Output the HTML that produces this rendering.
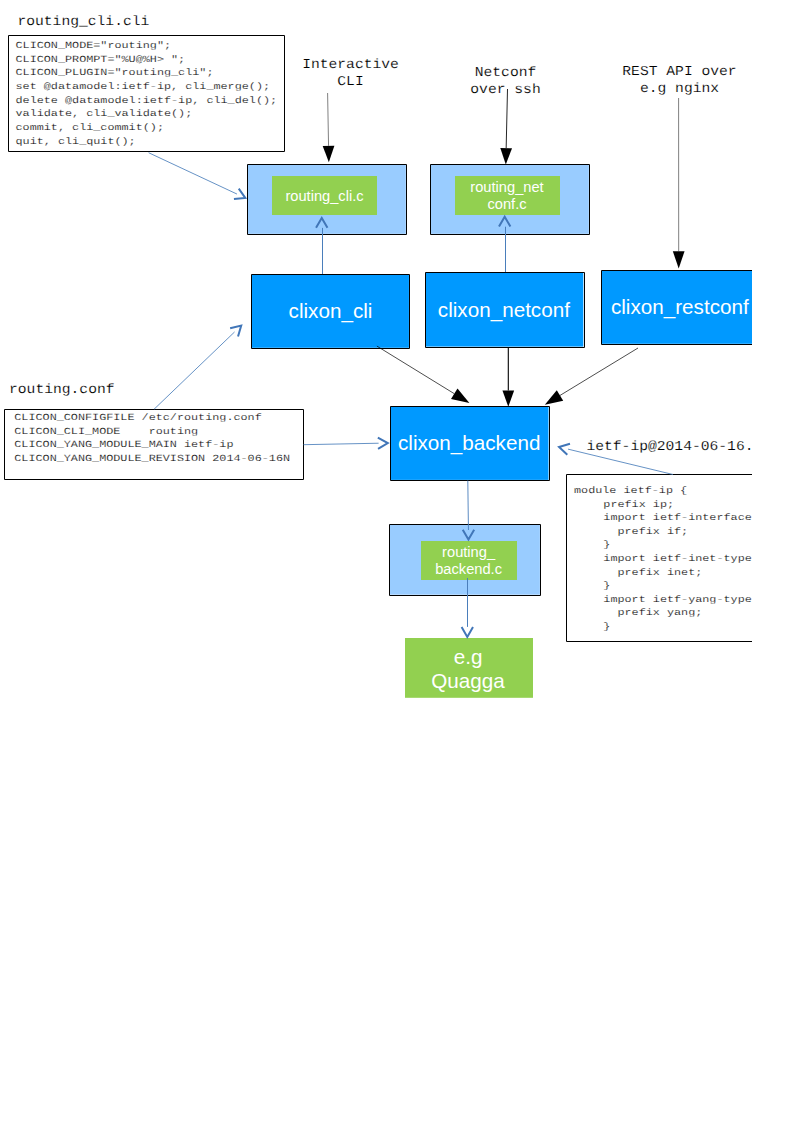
<!DOCTYPE html>
<html lang="en">
<head>
<meta charset="utf-8">
<title>clixon routing example</title>
<style>
html,body{margin:0;padding:0;background:#fff;}
body{width:794px;height:1123px;overflow:hidden;position:relative;}
svg{display:block;position:absolute;left:0;top:0;}
text{white-space:pre;}
.m{font-family:"Liberation Mono",monospace;fill:#000;stroke:#fff;text-rendering:geometricPrecision;}
.t{font-size:14.664px;stroke-width:0.15px;}
.c{font-size:11.798px;stroke-width:0.2px;}
.s,.b{font-family:"Liberation Sans",sans-serif;fill:#fff;}
.s{font-size:14.67px;}
.b{font-size:20.67px;}
</style>
</head>
<body>
<svg width="794" height="1123" viewBox="0 0 794 1123">
<defs><clipPath id="pg"><rect x="0" y="0" width="752" height="1123"/></clipPath></defs>
<rect x="0" y="0" width="794" height="1123" fill="#fff"/>
<g clip-path="url(#pg)">
<text class="m t" transform="translate(17.4 25.2) scale(1 0.93)">routing_cli.cli</text>
<rect x="8.5" y="35.5" width="276" height="116" fill="#fff" stroke="#000" stroke-width="1" stroke-linejoin="round"/>
<text class="m c" transform="translate(15.5 48) scale(1 0.79)">CLICON_MODE="routing";</text>
<text class="m c" transform="translate(15.5 61.67) scale(1 0.79)">CLICON_PROMPT="%U@%H&gt; ";</text>
<text class="m c" transform="translate(15.5 75.34) scale(1 0.79)">CLICON_PLUGIN="routing_cli";</text>
<text class="m c" transform="translate(15.5 89.01) scale(1 0.79)">set @datamodel:ietf-ip, cli_merge();</text>
<text class="m c" transform="translate(15.5 102.68) scale(1 0.79)">delete @datamodel:ietf-ip, cli_del();</text>
<text class="m c" transform="translate(15.5 116.35) scale(1 0.79)">validate, cli_validate();</text>
<text class="m c" transform="translate(15.5 130.02) scale(1 0.79)">commit, cli_commit();</text>
<text class="m c" transform="translate(15.5 143.69) scale(1 0.79)">quit, cli_quit();</text>
<text class="m t" transform="translate(350.5 68) scale(1 0.93)" text-anchor="middle">Interactive</text>
<text class="m t" transform="translate(350.5 85) scale(1 0.93)" text-anchor="middle">CLI</text>
<text class="m t" transform="translate(505.5 76) scale(1 0.93)" text-anchor="middle">Netconf</text>
<text class="m t" transform="translate(505.5 93) scale(1 0.93)" text-anchor="middle">over ssh</text>
<text class="m t" transform="translate(679.5 75) scale(1 0.93)" text-anchor="middle">REST API over</text>
<text class="m t" transform="translate(679.5 92) scale(1 0.93)" text-anchor="middle">e.g nginx</text>
<text class="m t" transform="translate(9 392.7) scale(1 0.93)">routing.conf</text>
<rect x="4.5" y="409.5" width="299" height="70" fill="#fff" stroke="#000" stroke-width="1" stroke-linejoin="round"/>
<text class="m c" transform="translate(14.3 420.1) scale(1 0.79)">CLICON_CONFIGFILE /etc/routing.conf</text>
<text class="m c" transform="translate(14.3 433.77) scale(1 0.79)">CLICON_CLI_MODE    routing</text>
<text class="m c" transform="translate(14.3 447.44) scale(1 0.79)">CLICON_YANG_MODULE_MAIN ietf-ip</text>
<text class="m c" transform="translate(14.3 461.11) scale(1 0.79)">CLICON_YANG_MODULE_REVISION 2014-06-16N</text>
<text class="m t" transform="translate(586.4 449.8) scale(1 0.93)">ietf-ip@2014-06-16.</text>
<rect x="566.5" y="474.5" width="260" height="167" fill="#fff" stroke="#000" stroke-width="1" stroke-linejoin="round"/>
<text class="m c" transform="translate(574 493) scale(1 0.79)">module ietf-ip {</text>
<text class="m c" transform="translate(603.32 506.6) scale(1 0.79)">prefix ip;</text>
<text class="m c" transform="translate(603.32 520.2) scale(1 0.79)">import ietf-interface</text>
<text class="m c" transform="translate(617.48 533.8) scale(1 0.79)">prefix if;</text>
<text class="m c" transform="translate(603.32 547.4) scale(1 0.79)">}</text>
<text class="m c" transform="translate(603.32 561) scale(1 0.79)">import ietf-inet-type</text>
<text class="m c" transform="translate(617.48 574.6) scale(1 0.79)">prefix inet;</text>
<text class="m c" transform="translate(603.32 588.2) scale(1 0.79)">}</text>
<text class="m c" transform="translate(603.32 601.8) scale(1 0.79)">import ietf-yang-type</text>
<text class="m c" transform="translate(617.48 615.4) scale(1 0.79)">prefix yang;</text>
<text class="m c" transform="translate(603.32 629) scale(1 0.79)">}</text>
<rect x="247.5" y="164.5" width="158.35" height="69.35" fill="#99ccff"/>
<rect x="247.5" y="164.5" width="159" height="70" fill="none" stroke="#000" stroke-width="1" stroke-linejoin="round"/>
<rect x="272" y="176" width="105" height="39" fill="#92d050"/>
<text class="s" x="324.5" y="201.2" text-anchor="middle">routing_cli.c</text>
<rect x="430.5" y="164.5" width="158.35" height="69.35" fill="#99ccff"/>
<rect x="430.5" y="164.5" width="159" height="70" fill="none" stroke="#000" stroke-width="1" stroke-linejoin="round"/>
<rect x="455" y="176" width="105" height="39" fill="#92d050"/>
<text class="s" x="507" y="192.1" text-anchor="middle">routing_net</text>
<text class="s" x="507" y="208.8" text-anchor="middle">conf.c</text>
<rect x="389.5" y="524.5" width="150.4" height="70.2" fill="#99ccff"/>
<rect x="389.5" y="524.5" width="151" height="71" fill="none" stroke="#000" stroke-width="1" stroke-linejoin="round"/>
<rect x="421" y="541" width="96" height="39" fill="#92d050"/>
<text class="s" x="468.6" y="557.4" text-anchor="middle">routing_</text>
<text class="s" x="468.6" y="573.6" text-anchor="middle">backend.c</text>
<line x1="322.50" y1="274.00" x2="322.50" y2="227.90" stroke="#4a7ebb" stroke-width="1.0"/>
<polyline points="316.05,227.77 321.75,217.90 327.45,227.77" fill="none" stroke="#4176b8" stroke-width="2.0" stroke-linejoin="miter"/>
<line x1="505.50" y1="272.00" x2="505.50" y2="226.70" stroke="#4a7ebb" stroke-width="1.0"/>
<polyline points="499.00,226.57 504.70,216.70 510.40,226.57" fill="none" stroke="#4176b8" stroke-width="2.0" stroke-linejoin="miter"/>
<rect x="251.5" y="274.5" width="157.45" height="73.3" fill="#0099ff"/>
<rect x="251.5" y="274.5" width="158" height="74" fill="none" stroke="#000" stroke-width="1" stroke-linejoin="round"/>
<text class="b" x="330.5" y="318" text-anchor="middle">clixon_cli</text>
<rect x="425.5" y="272.5" width="157.8" height="74.1" fill="#0099ff"/>
<rect x="425.5" y="272.5" width="159" height="75" fill="none" stroke="#000" stroke-width="1" stroke-linejoin="round"/>
<text class="b" x="503.9" y="317" text-anchor="middle">clixon_netconf</text>
<rect x="601.5" y="270.5" width="158.5" height="73.3" fill="#0099ff"/>
<rect x="601.5" y="270.5" width="159" height="74" fill="none" stroke="#000" stroke-width="1" stroke-linejoin="round"/>
<text class="b" x="679.8" y="313.9" text-anchor="middle">clixon_restconf</text>
<rect x="390.5" y="406.5" width="158" height="73.4" fill="#0099ff"/>
<rect x="390.5" y="406.5" width="159" height="74" fill="none" stroke="#000" stroke-width="1" stroke-linejoin="round"/>
<text class="b" x="469.2" y="449.5" text-anchor="middle">clixon_backend</text>
<rect x="405" y="638" width="128" height="59.8" fill="#92d050"/>
<text class="b" x="468.2" y="663.5" text-anchor="middle">e.g</text>
<text class="b" x="468" y="688.3" text-anchor="middle">Quagga</text>
<line x1="327.60" y1="93.00" x2="328.55" y2="145.80" stroke="#000" stroke-width="0.5"/>
<polygon points="328.85,162.30 322.70,145.91 334.40,145.70" fill="#000"/>
<line x1="507.50" y1="89.00" x2="506.17" y2="148.10" stroke="#000" stroke-width="0.85"/>
<polygon points="505.80,164.60 500.32,147.97 512.02,148.24" fill="#000"/>
<line x1="678.60" y1="98.00" x2="678.69" y2="251.30" stroke="#000" stroke-width="0.5"/>
<polygon points="678.70,268.60 672.84,251.30 684.54,251.30" fill="#000"/>
<line x1="376.90" y1="346.10" x2="454.24" y2="393.67" stroke="#000" stroke-width="0.7"/>
<polygon points="469.40,403.00 450.99,398.95 457.49,388.39" fill="#000"/>
<line x1="508.30" y1="347.50" x2="508.30" y2="390.40" stroke="#000" stroke-width="1.1"/>
<polygon points="508.30,406.70 502.45,390.40 514.15,390.40" fill="#000"/>
<line x1="638.00" y1="348.00" x2="560.01" y2="395.45" stroke="#000" stroke-width="0.7"/>
<polygon points="544.80,404.70 556.78,390.15 563.23,400.75" fill="#000"/>
<line x1="148.60" y1="152.70" x2="236.96" y2="194.05" stroke="#4a7ebb" stroke-width="0.85"/>
<polyline points="238.76,188.60 245.29,197.95 233.93,198.93" fill="none" stroke="#4176b8" stroke-width="2.0" stroke-linejoin="miter"/>
<line x1="154.00" y1="409.30" x2="234.57" y2="331.96" stroke="#4a7ebb" stroke-width="0.85"/>
<polyline points="230.14,328.31 241.21,325.59 238.03,336.53" fill="none" stroke="#4176b8" stroke-width="2.0" stroke-linejoin="miter"/>
<line x1="303.50" y1="444.70" x2="378.60" y2="443.22" stroke="#4a7ebb" stroke-width="0.85"/>
<polyline points="377.82,437.53 387.80,443.04 378.04,448.93" fill="none" stroke="#4176b8" stroke-width="2.0" stroke-linejoin="miter"/>
<line x1="673.00" y1="474.50" x2="567.99" y2="449.13" stroke="#4a7ebb" stroke-width="0.85"/>
<polyline points="567.30,454.83 559.04,446.97 569.98,443.75" fill="none" stroke="#4176b8" stroke-width="2.0" stroke-linejoin="miter"/>
<line x1="467.80" y1="480.50" x2="468.45" y2="530.00" stroke="#4a7ebb" stroke-width="0.9"/>
<polyline points="474.15,529.73 468.45,539.60 462.75,529.73" fill="none" stroke="#4176b8" stroke-width="2.0" stroke-linejoin="miter"/>
<line x1="467.50" y1="578.00" x2="467.50" y2="626.90" stroke="#4a7ebb" stroke-width="1.0"/>
<polyline points="473.00,627.03 467.30,636.90 461.60,627.03" fill="none" stroke="#4176b8" stroke-width="2.0" stroke-linejoin="miter"/>
</g>
</svg>
</body>
</html>
